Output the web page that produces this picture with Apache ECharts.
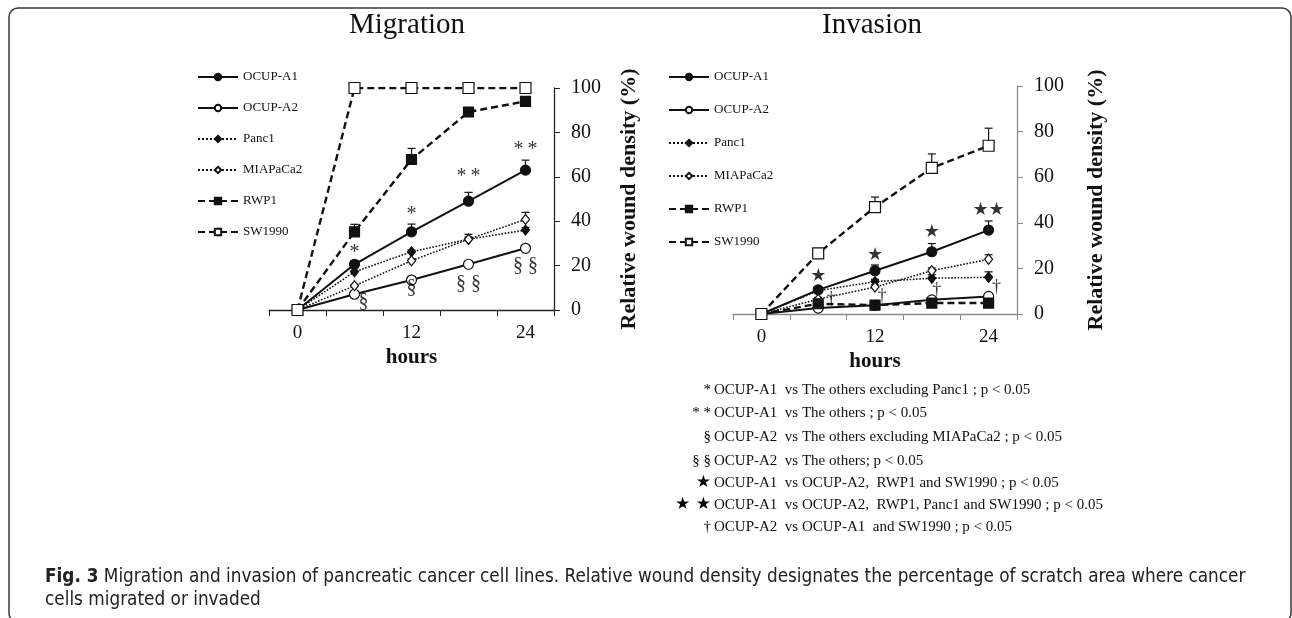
<!DOCTYPE html>
<html>
<head>
<meta charset="utf-8">
<title>Migration and invasion</title>
<script src="https://cdn.jsdelivr.net/npm/echarts@6/dist/echarts.min.js"></script>
<style>
  html, body { margin: 0; padding: 0; background: #fff; }
  #chart { width: 1292px; height: 618px; }
</style>
</head>
<body>
<div id="chart"></div>
<script>
// time points (hours), only 0 / 12 / 24 get a label
const hours = ['0', '6', '12', '18', '24']
const cellLines = ['OCUP-A1', 'OCUP-A2', 'Panc1', 'MIAPaCa2', 'RWP1', 'SW1990']
const yTicks = [0, 20, 40, 60, 80, 100]

// Migration: relative wound density (%) and upper error
const migOcupA1 = [0, 20.6, 35.2, 49, 63]
const migOcupA2 = [0, 7.1, 13.5, 20.6, 27.8]
const migPanc1 = [0, 17.2, 26.2, 31.9, 36]
const migMiapaca2 = [0, 10.9, 22.2, 31.9, 40.8]
const migRwp1 = [0, 35.2, 67.8, 89.2, 94]
const migSw1990 = [0, 100, 100, 100, 100]

const migErrOcupA1 = [0, 1.5, 3.5, 4, 4.5]
const migErrOcupA2 = [0, 0.6, 0.6, 0.6, 0.8]
const migErrPanc1 = [0, 0.5, 0.8, 1, 1.2]
const migErrMiapaca2 = [0, 0.6, 0.8, 2.2, 3.2]
const migErrRwp1 = [0, 3.4, 5, 0.6, 0.6]
const migErrSw1990 = [0, 0, 0, 0, 0]

// Invasion
const invOcupA1 = [0, 10.6, 19, 27.3, 36.8]
const invOcupA2 = [0, 2.6, 3.8, 6.2, 7.7]
const invPanc1 = [0, 10.2, 14.2, 15.7, 16.1]
const invMiapaca2 = [0, 6.5, 11.8, 19, 24]
const invRwp1 = [0, 4.5, 3.9, 4.8, 4.8]
const invSw1990 = [0, 26.6, 46.9, 64.1, 73.8]

const invErrOcupA1 = [0, 1, 2.5, 3.6, 4]
const invErrOcupA2 = [0, 0.5, 0.5, 0.6, 0.8]
const invErrPanc1 = [0, 0.8, 1, 1.5, 2.4]
const invErrMiapaca2 = [0, 0.8, 1, 1.2, 2]
const invErrRwp1 = [0, 0.5, 0.5, 0.5, 0.5]
const invErrSw1990 = [0, 1, 4.4, 6.1, 7.7]

// significance marks: [hour index, value, mark]
const migMarks = [[1, 26, '*'], [2, 43, '*'], [3, 60, '*\u2009*'], [4, 72.3, '*\u2009*'],
  [1, 3.7, '§'], [2, 10, '§'], [3, 12, '§ §'], [4, 19.8, '§ §']]
const invMarks = [[1, 16.7, '★'], [2, 25.9, '★'], [3, 36, '★'], [4, 45.5, '★★'],
  [1, 6.5, '†'], [2, 7.7, '†'], [3, 10.6, '†'], [4, 11.8, '†']]

const noteMarks = ['*', '* *', '§', '§ §', '★', '★ ★', '†']
const noteTexts = [
  'OCUP-A1  vs The others excluding Panc1 ; p < 0.05',
  'OCUP-A1  vs The others ; p < 0.05',
  'OCUP-A2  vs The others excluding MIAPaCa2 ; p < 0.05',
  'OCUP-A2  vs The others; p < 0.05',
  'OCUP-A1  vs OCUP-A2,  RWP1 and SW1990 ; p < 0.05',
  'OCUP-A1  vs OCUP-A2,  RWP1, Panc1 and SW1990 ; p < 0.05',
  'OCUP-A2  vs OCUP-A1  and SW1990 ; p < 0.05'
]

const serif = '"Liberation Serif", "Times New Roman", "DejaVu Serif", serif'
const starFont = '"DejaVu Sans", sans-serif'
const narrow = '"Liberation Sans Narrow", "DejaVu Sans Condensed", sans-serif'
const ink = '#111'

// marker / line look for each cell line
const looks = {
  'OCUP-A1': { symbol: 'circle', size: 10, fill: ink, type: 'solid', width: 2 },
  'OCUP-A2': { symbol: 'circle', size: 10, fill: '#fff', type: 'solid', width: 2 },
  'Panc1': { symbol: 'diamond', size: [8, 10], fill: ink, type: 'dotted', width: 1.6 },
  'MIAPaCa2': { symbol: 'diamond', size: [8, 10], fill: '#fff', type: 'dotted', width: 1.6 },
  'RWP1': { symbol: 'rect', size: 10, fill: ink, type: [7, 4], width: 2.4 },
  'SW1990': { symbol: 'rect', size: 11, fill: '#fff', type: [7, 4], width: 2.4 }
}

function lineSeries(name, values, idx) {
  const lk = looks[name]
  return {
    name: name,
    type: 'line',
    xAxisIndex: idx,
    yAxisIndex: idx,
    data: values,
    symbol: lk.symbol,
    symbolSize: lk.size,
    showAllSymbol: true,
    lineStyle: { color: ink, width: lk.width, type: lk.type },
    itemStyle: { color: lk.fill, borderColor: ink, borderWidth: 1.2 },
    z: 3,
    animation: false
  }
}

// upward error bar with a cap
function errorBar(params, api) {
  const base = api.coord([api.value(0), api.value(1)])
  const top = api.coord([api.value(0), api.value(1) + api.value(2)])
  const st = { stroke: ink, lineWidth: 1.2 }
  return {
    type: 'group',
    children: [
      { type: 'line', shape: { x1: base[0], y1: base[1], x2: top[0], y2: top[1] }, style: st },
      { type: 'line', shape: { x1: top[0] - 4, y1: top[1], x2: top[0] + 4, y2: top[1] }, style: st }
    ]
  }
}

function errSeries(name, values, errs, idx) {
  return {
    name: name + ' error',
    type: 'custom',
    xAxisIndex: idx,
    yAxisIndex: idx,
    renderItem: errorBar,
    data: values.map((v, i) => [i, v, errs[i]]).filter(d => d[2] > 0),
    encode: { x: 0, y: 1 },
    z: 2,
    silent: true,
    animation: false
  }
}

const migOffsets = [0, 0, 0, 0, 9, 0, 0, 0]
const invOffsets = [0, 0, 0, 0, 13, 7, 5, 8]

function markSeries(marks, offsets, idx, fontSize) {
  return {
    type: 'scatter',
    xAxisIndex: idx,
    yAxisIndex: idx,
    symbolSize: 0,
    silent: true,
    animation: false,
    z: 4,
    data: marks.map((m, i) => {
      const star = m[2].indexOf('★') >= 0
      return {
        value: [m[0], m[1]],
        label: {
          show: true,
          position: 'inside',
          formatter: m[2],
          offset: [offsets[i], 0],
          color: '#000',
          fontFamily: star ? starFont : serif,
          fontSize: star ? 18 : fontSize
        }
      }
    })
  }
}

const charts = echarts.init(document.getElementById('chart'))

const migValues = [migOcupA1, migOcupA2, migPanc1, migMiapaca2, migRwp1, migSw1990]
const migErrs = [migErrOcupA1, migErrOcupA2, migErrPanc1, migErrMiapaca2, migErrRwp1, migErrSw1990]
const invValues = [invOcupA1, invOcupA2, invPanc1, invMiapaca2, invRwp1, invSw1990]
const invErrs = [invErrOcupA1, invErrOcupA2, invErrPanc1, invErrMiapaca2, invErrRwp1, invErrSw1990]

const series = []
cellLines.forEach((n, i) => series.push(errSeries('mig ' + n, migValues[i], migErrs[i], 0)))
cellLines.forEach((n, i) => series.push(errSeries('inv ' + n, invValues[i], invErrs[i], 1)))
cellLines.forEach((n, i) => series.push(lineSeries(n, migValues[i], 0)))
cellLines.forEach((n, i) => series.push(lineSeries(n, invValues[i], 1)))
series.push(markSeries(migMarks, migOffsets, 0, 20))
series.push(markSeries(invMarks, invOffsets, 1, 18))

function xAxisFor(idx, color) {
  return {
    type: 'category',
    gridIndex: idx,
    data: hours,
    boundaryGap: true,
    name: 'hours',
    nameLocation: 'middle',
    nameGap: 37,
    nameTextStyle: { fontFamily: serif, fontSize: 21, fontWeight: 'bold', color: ink },
    axisLine: { lineStyle: { color: color, width: 1.3 } },
    axisTick: { show: true, interval: 0, length: 6, lineStyle: { color: color } },
    axisLabel: { interval: 1, margin: 14, fontFamily: serif, fontSize: 19, color: ink },
    splitLine: { show: false }
  }
}

function yAxisFor(idx, color, gap) {
  return {
    type: 'value',
    gridIndex: idx,
    position: 'right',
    min: yTicks[0],
    max: yTicks[yTicks.length - 1],
    interval: 20,
    name: 'Relative wound density (%)',
    nameLocation: 'middle',
    nameRotate: 90,
    nameGap: gap,
    nameTextStyle: { fontFamily: serif, fontSize: 22, fontWeight: 'bold', color: ink },
    axisLine: { show: true, lineStyle: { color: color, width: 1.3 } },
    axisTick: { show: true, length: 6, lineStyle: { color: color } },
    axisLabel: { margin: 17, fontFamily: serif, fontSize: 20, color: ink },
    splitLine: { show: false }
  }
}

function legendFor(left, top, gap) {
  return {
    orient: 'vertical',
    left: left,
    top: top,
    padding: 0,
    itemWidth: 40,
    itemHeight: 8,
    itemGap: gap,
    data: cellLines,
    selectedMode: false,
    textStyle: { fontFamily: serif, fontSize: 13, color: ink, lineHeight: 14 }
  }
}

const graphics = [
  {
    type: 'rect',
    shape: { x: 9, y: 8, width: 1282, height: 614, r: 9 },
    style: { fill: 'none', stroke: '#3a3a3a', lineWidth: 1.5 },
    z: -10
  },
  { type: 'text', x: 407, y: 25, style: { text: 'Migration', fontFamily: serif, fontSize: 29, fill: ink, align: 'center', verticalAlign: 'middle' } },
  { type: 'text', x: 872, y: 25, style: { text: 'Invasion', fontFamily: serif, fontSize: 29, fill: ink, align: 'center', verticalAlign: 'middle' } },
  {
    type: 'text', x: 45, y: 577,
    style: {
      text: '{b|Fig. 3} Migration and invasion of pancreatic cancer cell lines. Relative wound density designates the percentage of scratch area where cancer',
      fontFamily: narrow, fontSize: 18.8, fill: '#222', verticalAlign: 'middle',
      rich: { b: { fontWeight: 'bold', fontSize: 18.8, fontFamily: narrow, fill: '#222' } }
    }
  },
  {
    type: 'text', x: 45, y: 600,
    style: { text: 'cells migrated or invaded', fontFamily: narrow, fontSize: 18.8, fill: '#222', verticalAlign: 'middle' }
  }
]

const noteY = [390, 413, 437, 461, 483, 505, 527]
noteTexts.forEach((t, i) => {
  const star = noteMarks[i].indexOf('★') >= 0
  graphics.push({
    type: 'text', x: 711, y: noteY[i],
    style: {
      text: noteMarks[i], align: 'right', verticalAlign: 'middle', fill: '#000',
      fontFamily: star ? starFont : serif, fontSize: star ? 17 : 15
    }
  })
  graphics.push({
    type: 'text', x: 714, y: noteY[i],
    style: { text: t, align: 'left', verticalAlign: 'middle', fill: ink, fontFamily: serif, fontSize: 15 }
  })
})

charts.setOption({
  backgroundColor: '#fff',
  animation: false,
  grid: [
    { left: 269, top: 88, width: 285, height: 222, outerBoundsMode: 'none' },
    { left: 733, top: 86, width: 284, height: 228, outerBoundsMode: 'none' }
  ],
  xAxis: [xAxisFor(0, '#222'), xAxisFor(1, '#8a8a8a')],
  yAxis: [yAxisFor(0, '#222', 64), yAxisFor(1, '#8a8a8a', 68)],
  legend: [legendFor(197, 70, 17), legendFor(668, 70, 19)],
  graphic: graphics,
  series: series
})
</script>
</body>
</html>
